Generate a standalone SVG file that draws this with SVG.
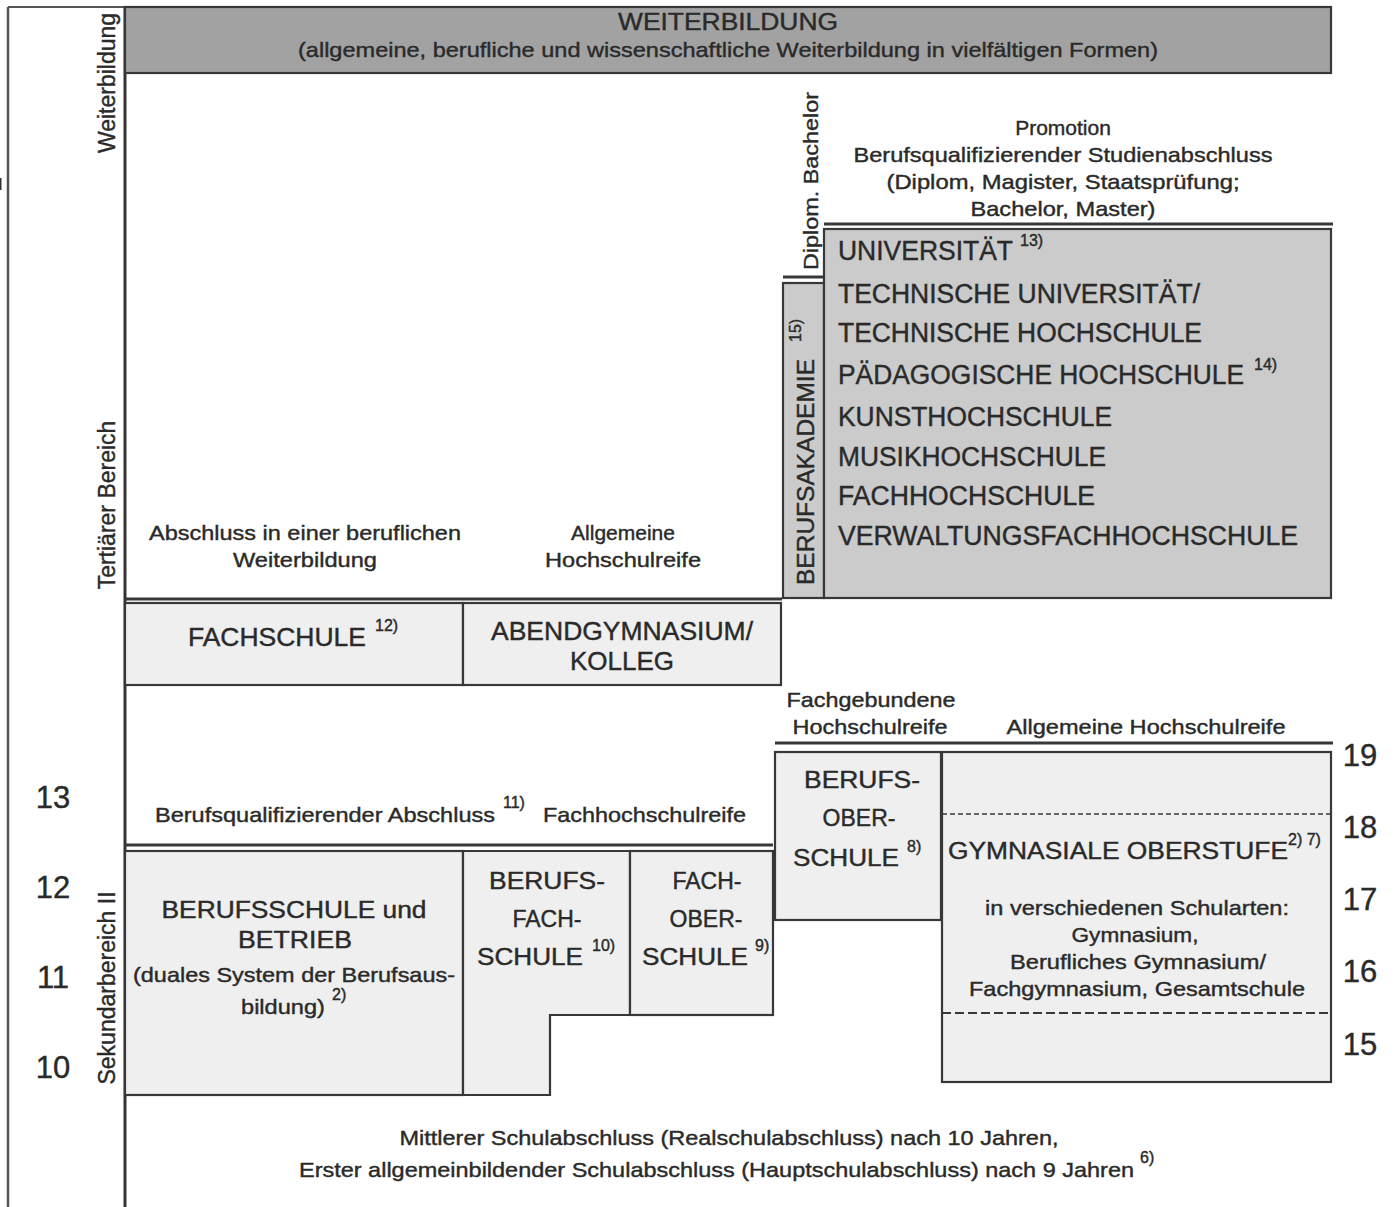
<svg xmlns="http://www.w3.org/2000/svg" width="1398" height="1207" viewBox="0 0 1398 1207">
<style>
text{font-family:"Liberation Sans",Arial,sans-serif;fill:#2a2a2a;stroke:#2a2a2a;stroke-width:0.4}
.box{stroke:#383838;stroke-width:2.2}
.lt{fill:#efefef}
.uni{fill:#cbcbcb}
.dk{fill:#a2a2a2}
.ln{stroke:#383838;stroke-width:3;fill:none}
.s21{font-size:21px}
.s22{font-size:22px}
.s23{font-size:23px}
.s26{font-size:26px}
.s27{font-size:27px}
.num{font-size:31px}
.sup{font-size:16px}
.m{text-anchor:middle}
</style>
<rect width="1398" height="1207" fill="#ffffff"/>
<g id="frame">
<line x1="8" y1="7" x2="8" y2="1207" stroke="#555" stroke-width="2.5"/>
<line x1="8" y1="7" x2="125" y2="7" stroke="#555" stroke-width="2"/>
<line x1="125" y1="7" x2="125" y2="1207" stroke="#333" stroke-width="3"/>
<line x1="0" y1="178" x2="0" y2="190" stroke="#333" stroke-width="3"/>
</g>
<g id="axis-labels">
<text class="s23 m" transform="translate(115,83) rotate(-90)">Weiterbildung</text>
<text class="s23 m" transform="translate(115,505) rotate(-90)">Tertiärer Bereich</text>
<text class="s23 m" transform="translate(115,988) rotate(-90)">Sekundarbereich II</text>
<text class="num m" x="53" y="808">13</text>
<text class="num m" x="53" y="898">12</text>
<text class="num m" x="53" y="988">11</text>
<text class="num m" x="53" y="1078">10</text>
<text class="num m" x="1360" y="766">19</text>
<text class="num m" x="1360" y="838">18</text>
<text class="num m" x="1360" y="910">17</text>
<text class="num m" x="1360" y="982">16</text>
<text class="num m" x="1360" y="1055">15</text>
</g>
<g id="weiterbildung">
<rect class="box dk" x="125" y="7" width="1206" height="66"/>
<text class="s23 m" x="728" y="30" textLength="220" lengthAdjust="spacingAndGlyphs">WEITERBILDUNG</text>
<text class="s21 m" x="728" y="57" textLength="860" lengthAdjust="spacingAndGlyphs">(allgemeine, berufliche und wissenschaftliche Weiterbildung in vielfältigen Formen)</text>
</g>
<g id="connectors">
<line class="ln" x1="125" y1="599" x2="782" y2="599"/>
<line class="ln" x1="783" y1="277" x2="824" y2="277"/>
<line class="ln" x1="824" y1="224" x2="1333" y2="224"/>
<line class="ln" x1="125" y1="845" x2="773" y2="845"/>
<line class="ln" x1="775" y1="743" x2="1333" y2="743"/>
</g>
<g id="abschluesse-tertiaer">
<text class="s21 m" x="1063" y="135">Promotion</text>
<text class="s21 m" x="1063" y="162" textLength="419" lengthAdjust="spacingAndGlyphs">Berufsqualifizierender Studienabschluss</text>
<text class="s21 m" x="1063" y="189" textLength="353" lengthAdjust="spacingAndGlyphs">(Diplom, Magister, Staatsprüfung;</text>
<text class="s21 m" x="1063" y="216" textLength="185" lengthAdjust="spacingAndGlyphs">Bachelor, Master)</text>
<text class="s21 m" transform="translate(818,181) rotate(-90)" textLength="178" lengthAdjust="spacingAndGlyphs">Diplom. Bachelor</text>
<text class="s21 m" x="305" y="540" textLength="312" lengthAdjust="spacingAndGlyphs">Abschluss in einer beruflichen</text>
<text class="s21 m" x="305" y="567" textLength="144" lengthAdjust="spacingAndGlyphs">Weiterbildung</text>
<text class="s21 m" x="623" y="540">Allgemeine</text>
<text class="s21 m" x="623" y="567" textLength="156" lengthAdjust="spacingAndGlyphs">Hochschulreife</text>
</g>
<g id="berufsakademie">
<rect class="box uni" x="783" y="283" width="41" height="315"/>
<text class="s23" transform="translate(814,585) rotate(-90)" textLength="226" lengthAdjust="spacingAndGlyphs">BERUFSAKADEMIE</text>
<text class="sup" transform="translate(801,342) rotate(-90)">15)</text>
</g>
<g id="hochschulen">
<rect class="box uni" x="824" y="229" width="507" height="369"/>
<text class="s27" x="838" y="260" textLength="175" lengthAdjust="spacingAndGlyphs">UNIVERSITÄT</text>
<text class="sup" x="1020" y="246">13)</text>
<text class="s27" x="838" y="303" textLength="362" lengthAdjust="spacingAndGlyphs">TECHNISCHE UNIVERSITÄT/</text>
<text class="s27" x="838" y="342" textLength="364" lengthAdjust="spacingAndGlyphs">TECHNISCHE HOCHSCHULE</text>
<text class="s27" x="838" y="384" textLength="406" lengthAdjust="spacingAndGlyphs">PÄDAGOGISCHE HOCHSCHULE</text>
<text class="sup" x="1254" y="370">14)</text>
<text class="s27" x="838" y="426" textLength="274" lengthAdjust="spacingAndGlyphs">KUNSTHOCHSCHULE</text>
<text class="s27" x="838" y="466" textLength="268" lengthAdjust="spacingAndGlyphs">MUSIKHOCHSCHULE</text>
<text class="s27" x="838" y="505" textLength="257" lengthAdjust="spacingAndGlyphs">FACHHOCHSCHULE</text>
<text class="s27" x="838" y="545" textLength="460" lengthAdjust="spacingAndGlyphs">VERWALTUNGSFACHHOCHSCHULE</text>
</g>
<g id="fachschule">
<rect class="box lt" x="125" y="603" width="338" height="82"/>
<text class="s26" x="188" y="646" textLength="178" lengthAdjust="spacingAndGlyphs">FACHSCHULE</text>
<text class="sup" x="375" y="631">12)</text>
</g>
<g id="abendgymnasium">
<rect class="box lt" x="463" y="603" width="318" height="82"/>
<text class="s26 m" x="622" y="640" textLength="262" lengthAdjust="spacingAndGlyphs">ABENDGYMNASIUM/</text>
<text class="s26 m" x="622" y="670">KOLLEG</text>
</g>
<g id="abschluesse-sek">
<text class="s21" x="155" y="822" textLength="340" lengthAdjust="spacingAndGlyphs">Berufsqualifizierender Abschluss</text>
<text class="sup" x="503" y="808">11)</text>
<text class="s21" x="543" y="822" textLength="203" lengthAdjust="spacingAndGlyphs">Fachhochschulreife</text>
<text class="s21 m" x="871" y="707" textLength="169" lengthAdjust="spacingAndGlyphs">Fachgebundene</text>
<text class="s21 m" x="870" y="734" textLength="155" lengthAdjust="spacingAndGlyphs">Hochschulreife</text>
<text class="s21 m" x="1146" y="734" textLength="279" lengthAdjust="spacingAndGlyphs">Allgemeine Hochschulreife</text>
</g>
<g id="berufsschule">
<rect class="box lt" x="125" y="851" width="338" height="244"/>
<text class="s23 m" x="294" y="918" textLength="265" lengthAdjust="spacingAndGlyphs">BERUFSSCHULE und</text>
<text class="s23 m" x="295" y="948" textLength="114" lengthAdjust="spacingAndGlyphs">BETRIEB</text>
<text class="s21 m" x="294" y="982" textLength="322" lengthAdjust="spacingAndGlyphs">(duales System der Berufsaus-</text>
<text class="s21 m" x="283" y="1014" textLength="84" lengthAdjust="spacingAndGlyphs">bildung)</text>
<text class="sup" x="332" y="1000">2)</text>
</g>
<g id="berufsfachschule">
<polygon class="box lt" points="463,851 630,851 630,1015 550,1015 550,1095 463,1095"/>
<text class="s23 m" x="547" y="889" textLength="116" lengthAdjust="spacingAndGlyphs">BERUFS-</text>
<text class="s23 m" x="547" y="927">FACH-</text>
<text class="s23" x="477" y="965" textLength="106" lengthAdjust="spacingAndGlyphs">SCHULE</text>
<text class="sup" x="592" y="951">10)</text>
</g>
<g id="fachoberschule">
<rect class="box lt" x="630" y="851" width="143" height="164"/>
<text class="s23 m" x="707" y="889">FACH-</text>
<text class="s23 m" x="706" y="927">OBER-</text>
<text class="s23" x="642" y="965" textLength="106" lengthAdjust="spacingAndGlyphs">SCHULE</text>
<text class="sup" x="755" y="951">9)</text>
</g>
<g id="berufsoberschule">
<rect class="box lt" x="775" y="752" width="166" height="168"/>
<text class="s23 m" x="862" y="788" textLength="116" lengthAdjust="spacingAndGlyphs">BERUFS-</text>
<text class="s23 m" x="859" y="826">OBER-</text>
<text class="s23" x="793" y="866" textLength="106" lengthAdjust="spacingAndGlyphs">SCHULE</text>
<text class="sup" x="907" y="852">8)</text>
</g>
<g id="gymnasiale-oberstufe">
<rect class="box lt" x="942" y="752" width="389" height="330"/>
<line x1="942" y1="814" x2="1331" y2="814" stroke="#383838" stroke-width="1.5" stroke-dasharray="5,3"/>
<line x1="942" y1="1013" x2="1331" y2="1013" stroke="#383838" stroke-width="2.2" stroke-dasharray="9,4"/>
<text class="s23" x="948" y="859" textLength="340" lengthAdjust="spacingAndGlyphs">GYMNASIALE OBERSTUFE</text>
<text class="sup" x="1288" y="845">2) 7)</text>
<text class="s21 m" x="1137" y="915" textLength="304" lengthAdjust="spacingAndGlyphs">in verschiedenen Schularten:</text>
<text class="s21 m" x="1135" y="942" textLength="127" lengthAdjust="spacingAndGlyphs">Gymnasium,</text>
<text class="s21 m" x="1138" y="969" textLength="256" lengthAdjust="spacingAndGlyphs">Berufliches Gymnasium/</text>
<text class="s21 m" x="1137" y="996" textLength="336" lengthAdjust="spacingAndGlyphs">Fachgymnasium, Gesamtschule</text>
</g>
<g id="sekundarbereich-i">
<text class="s21 m" x="729" y="1145" textLength="659" lengthAdjust="spacingAndGlyphs">Mittlerer Schulabschluss (Realschulabschluss) nach 10 Jahren,</text>
<text class="s21" x="299" y="1177" textLength="835" lengthAdjust="spacingAndGlyphs">Erster allgemeinbildender Schulabschluss (Hauptschulabschluss) nach 9 Jahren</text>
<text class="sup" x="1140" y="1163">6)</text>
</g>
</svg>
